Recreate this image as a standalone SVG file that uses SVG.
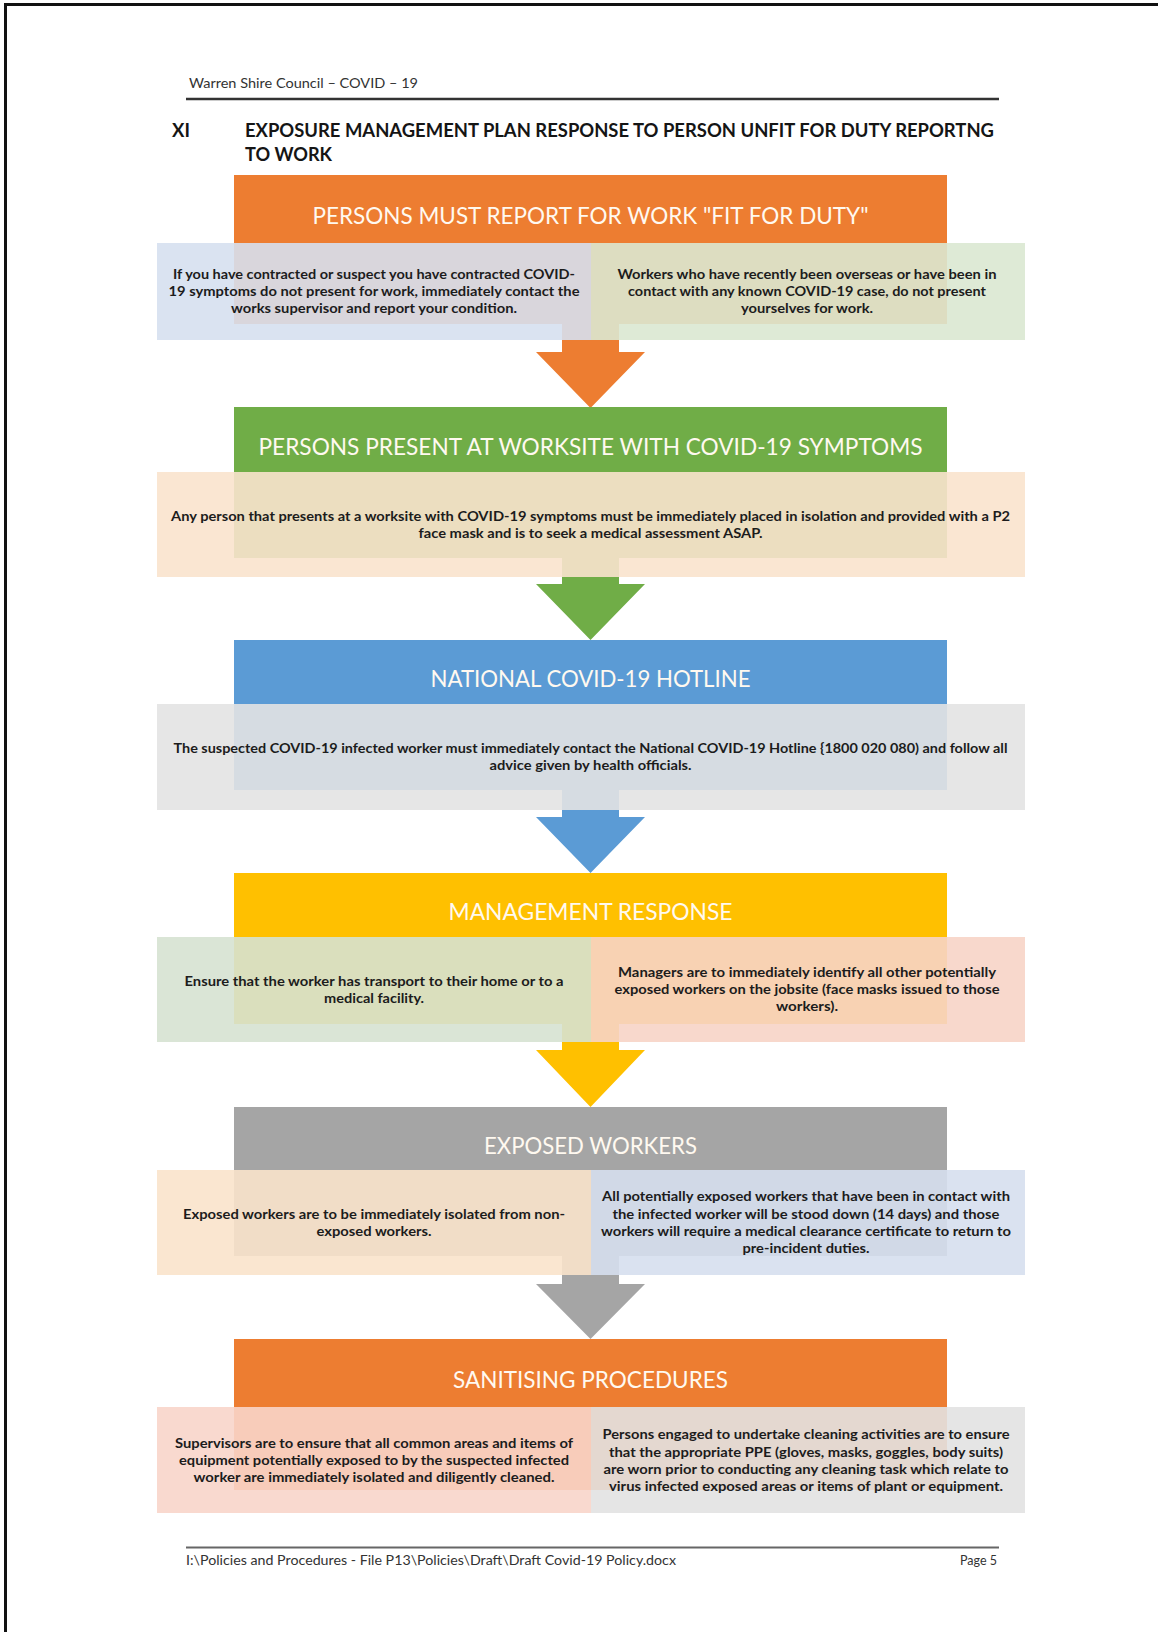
<svg xmlns="http://www.w3.org/2000/svg" width="1158" height="1632" viewBox="0 0 1158 1632">
  <style>
    .page-bg { fill: #ffffff; }
    .frame { stroke: #111111; stroke-width: 3; fill: none; }
    .run-head { font-family: Lato, "Open Sans", sans-serif; font-size: 12.5px; fill: #333333; }
    .title { font-family: Lato, "Open Sans", sans-serif; font-size: 18.5px; font-weight: bold; fill: #151515; }
    .band-title { font-family: Lato, "Open Sans", sans-serif; font-size: 24px; fill: #fff9f0; text-anchor: middle; }
    .body { font-family: Lato, "Open Sans", sans-serif; font-size: 13px; font-weight: bold; fill: #1c1c1c; text-anchor: middle; }
    .box { fill-opacity: 0.9; }
    .orange { fill: #ed7d31; }
    .green { fill: #70ad47; }
    .blue { fill: #5b9bd5; }
    .yellow { fill: #ffc000; }
    .grey { fill: #a5a5a5; }
  </style>

  <rect class="page-bg" x="0" y="0" width="1158" height="1632"/>

  <!-- page frame, running header and footer -->
  <g id="page">
    <line class="frame" x1="4" y1="4.5" x2="1158" y2="4.5"/>
    <line class="frame" x1="5.5" y1="3" x2="5.5" y2="1632"/>
    <text class="run-head" x="189" y="88" textLength="229" lengthAdjust="spacingAndGlyphs">Warren Shire Council – COVID – 19</text>
    <line x1="186" y1="99" x2="999" y2="99" stroke="#333333" stroke-width="2.5"/>
    <text class="title" x="172" y="137">XI</text>
    <text class="title" x="245" y="137" textLength="749" lengthAdjust="spacingAndGlyphs">EXPOSURE MANAGEMENT PLAN RESPONSE TO PERSON UNFIT FOR DUTY REPORTNG</text>
    <text class="title" x="245" y="161" textLength="87" lengthAdjust="spacingAndGlyphs">TO WORK</text>
    <line x1="186" y1="1547.5" x2="999" y2="1547.5" stroke="#666666" stroke-width="2"/>
    <text class="run-head" x="186" y="1565" textLength="490" lengthAdjust="spacingAndGlyphs">I:\Policies and Procedures - File P13\Policies\Draft\Draft Covid-19 Policy.docx</text>
    <text class="run-head" x="997" y="1565" text-anchor="end">Page 5</text>
  </g>

  <!-- block arrows between the steps (shafts run under the tinted boxes) -->
  <g id="connectors">
    <path class="orange" d="M562 324 H619 V352 H645 L590.5 408 L536 352 H562 Z"/>
    <path class="green" d="M562 558 H619 V584 H645 L590.5 640 L536 584 H562 Z"/>
    <path class="blue" d="M562 790 H619 V817 H645 L590.5 873 L536 817 H562 Z"/>
    <path class="yellow" d="M562 1024 H619 V1050 H645 L590.5 1107 L536 1050 H562 Z"/>
    <path class="grey" d="M562 1256 H619 V1284 H645 L590.5 1339 L536 1284 H562 Z"/>
  </g>

  <!-- step 1 -->
  <g id="step-fit-for-duty">
    <rect class="orange" x="234" y="175" width="713" height="149"/>
    <rect class="box" x="157" y="243" width="434" height="97" fill="#d6e0ef"/>
    <rect class="box" x="591" y="243" width="434" height="97" fill="#dae8d1"/>
    <text class="band-title" x="590.5" y="224" textLength="556" lengthAdjust="spacingAndGlyphs">PERSONS MUST REPORT FOR WORK "FIT FOR DUTY"</text>
    <text class="body" x="374" y="279" textLength="402" lengthAdjust="spacingAndGlyphs">If you have contracted or suspect you have contracted COVID-</text>
    <text class="body" x="374" y="296.2" textLength="411" lengthAdjust="spacingAndGlyphs">19 symptoms do not present for work, immediately contact the</text>
    <text class="body" x="374" y="313.4" textLength="286" lengthAdjust="spacingAndGlyphs">works supervisor and report your condition.</text>
    <text class="body" x="807" y="279" textLength="379" lengthAdjust="spacingAndGlyphs">Workers who have recently been overseas or have been in</text>
    <text class="body" x="807" y="296.2" textLength="358" lengthAdjust="spacingAndGlyphs">contact with any known COVID-19 case, do not present</text>
    <text class="body" x="807" y="313.4" textLength="132" lengthAdjust="spacingAndGlyphs">yourselves for work.</text>
  </g>

  <!-- step 2 -->
  <g id="step-symptoms-at-worksite">
    <rect class="green" x="234" y="407" width="713" height="151"/>
    <rect class="box" x="157" y="472" width="868" height="105" fill="#fae3cd"/>
    <text class="band-title" x="590.5" y="454.5" textLength="664" lengthAdjust="spacingAndGlyphs">PERSONS PRESENT AT WORKSITE WITH COVID-19 SYMPTOMS</text>
    <text class="body" x="590.5" y="520.6" textLength="839" lengthAdjust="spacingAndGlyphs">Any person that presents at a worksite with COVID-19 symptoms must be immediately placed in isolation and provided with a P2</text>
    <text class="body" x="590.5" y="537.8" textLength="344" lengthAdjust="spacingAndGlyphs">face mask and is to seek a medical assessment ASAP.</text>
  </g>

  <!-- step 3 -->
  <g id="step-hotline">
    <rect class="blue" x="234" y="640" width="713" height="150"/>
    <rect class="box" x="157" y="704" width="868" height="106" fill="#e3e3e3"/>
    <text class="band-title" x="590.5" y="687" textLength="320" lengthAdjust="spacingAndGlyphs">NATIONAL COVID-19 HOTLINE</text>
    <text class="body" x="590.5" y="753.1" textLength="834" lengthAdjust="spacingAndGlyphs">The suspected COVID-19 infected worker must immediately contact the National COVID-19 Hotline {1800 020 080) and follow all</text>
    <text class="body" x="590.5" y="770.3" textLength="202" lengthAdjust="spacingAndGlyphs">advice given by health officials.</text>
  </g>

  <!-- step 4 -->
  <g id="step-management-response">
    <rect class="yellow" x="234" y="873" width="713" height="151"/>
    <rect class="box" x="157" y="937" width="434" height="105" fill="#d6e2d1"/>
    <rect class="box" x="591" y="937" width="434" height="105" fill="#f7d4c6"/>
    <text class="band-title" x="590.5" y="920" textLength="284" lengthAdjust="spacingAndGlyphs">MANAGEMENT RESPONSE</text>
    <text class="body" x="374" y="985.6" textLength="379" lengthAdjust="spacingAndGlyphs">Ensure that the worker has transport to their home or to a</text>
    <text class="body" x="374" y="1002.8" textLength="100" lengthAdjust="spacingAndGlyphs">medical facility.</text>
    <text class="body" x="807" y="977" textLength="378" lengthAdjust="spacingAndGlyphs">Managers are to immediately identify all other potentially</text>
    <text class="body" x="807" y="994.2" textLength="385" lengthAdjust="spacingAndGlyphs">exposed workers on the jobsite (face masks issued to those</text>
    <text class="body" x="807" y="1011.4" textLength="62" lengthAdjust="spacingAndGlyphs">workers).</text>
  </g>

  <!-- step 5 -->
  <g id="step-exposed-workers">
    <rect class="grey" x="234" y="1107" width="713" height="149"/>
    <rect class="box" x="157" y="1170" width="434" height="105" fill="#fae3cb"/>
    <rect class="box" x="591" y="1170" width="434" height="105" fill="#d6dfee"/>
    <text class="band-title" x="590.5" y="1153.5" textLength="213" lengthAdjust="spacingAndGlyphs">EXPOSED WORKERS</text>
    <text class="body" x="374" y="1218.6" textLength="382" lengthAdjust="spacingAndGlyphs">Exposed workers are to be immediately isolated from non-</text>
    <text class="body" x="374" y="1235.8" textLength="115" lengthAdjust="spacingAndGlyphs">exposed workers.</text>
    <text class="body" x="806" y="1201.4" textLength="408" lengthAdjust="spacingAndGlyphs">All potentially exposed workers that have been in contact with</text>
    <text class="body" x="806" y="1218.6" textLength="387" lengthAdjust="spacingAndGlyphs">the infected worker will be stood down (14 days) and those</text>
    <text class="body" x="806" y="1235.8" textLength="410" lengthAdjust="spacingAndGlyphs">workers will require a medical clearance certificate to return to</text>
    <text class="body" x="806" y="1253" textLength="127" lengthAdjust="spacingAndGlyphs">pre-incident duties.</text>
  </g>

  <!-- step 6 -->
  <g id="step-sanitising">
    <rect class="orange" x="234" y="1339" width="713" height="151"/>
    <rect class="box" x="157" y="1407" width="434" height="106" fill="#f8d5ca"/>
    <rect class="box" x="591" y="1407" width="434" height="106" fill="#e2e2e2"/>
    <text class="band-title" x="590.5" y="1388" textLength="275" lengthAdjust="spacingAndGlyphs">SANITISING PROCEDURES</text>
    <text class="body" x="374" y="1448" textLength="398" lengthAdjust="spacingAndGlyphs">Supervisors are to ensure that all common areas and items of</text>
    <text class="body" x="374" y="1465.2" textLength="390" lengthAdjust="spacingAndGlyphs">equipment potentially exposed to by the suspected infected</text>
    <text class="body" x="374" y="1482.4" textLength="361" lengthAdjust="spacingAndGlyphs">worker are immediately isolated and diligently cleaned.</text>
    <text class="body" x="806" y="1439.4" textLength="407" lengthAdjust="spacingAndGlyphs">Persons engaged to undertake cleaning activities are to ensure</text>
    <text class="body" x="806" y="1456.6" textLength="394" lengthAdjust="spacingAndGlyphs">that the appropriate PPE (gloves, masks, goggles, body suits)</text>
    <text class="body" x="806" y="1473.8" textLength="405" lengthAdjust="spacingAndGlyphs">are worn prior to conducting any cleaning task which relate to</text>
    <text class="body" x="806" y="1491" textLength="394" lengthAdjust="spacingAndGlyphs">virus infected exposed areas or items of plant or equipment.</text>
  </g>
</svg>
